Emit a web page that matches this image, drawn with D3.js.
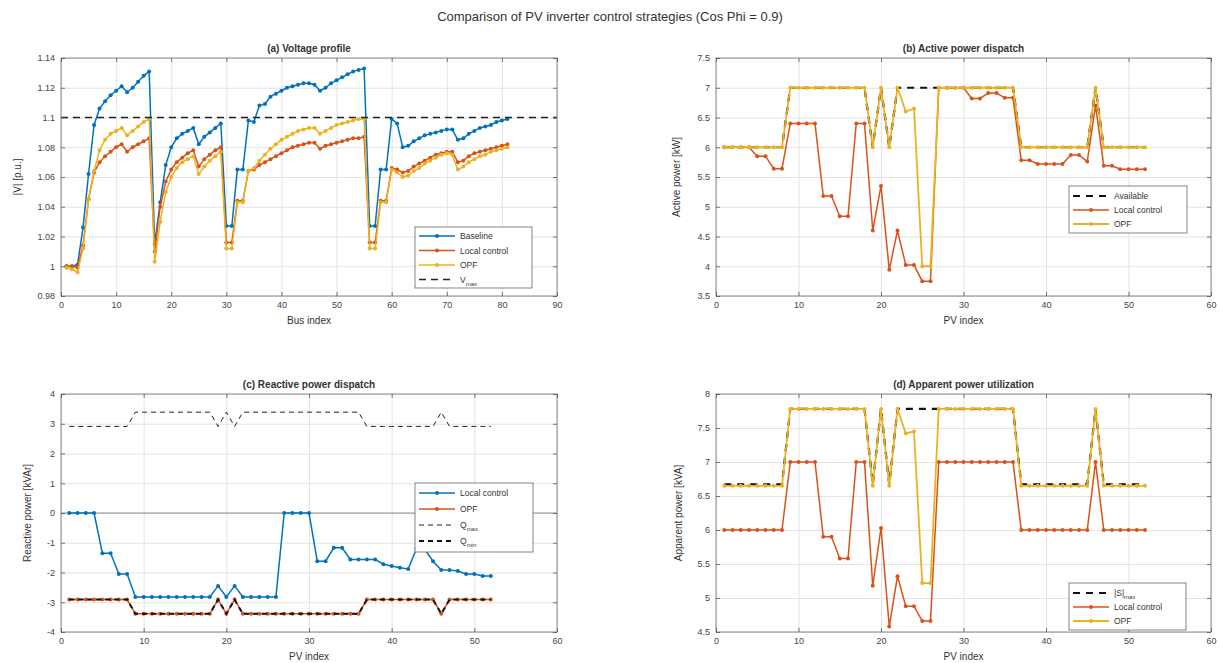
<!DOCTYPE html>
<html>
<head>
<meta charset="utf-8">
<script src="https://cdn.jsdelivr.net/npm/d3@7"></script>
<style>
body { margin:0; background:#fff; }
svg text { font-family:"Liberation Sans", Arial, Helvetica, sans-serif; fill:#333; }
.grid line { stroke:#e3e3e3; stroke-width:1; }
.grid path { display:none; }
.ax path { display:none; }
.ax line { stroke:#555; stroke-width:0.8; }
.ax text { font-size:9px; fill:#444; }
</style>
</head>
<body>
<svg id="fig" width="1220" height="663"></svg>
<script>
// ---- data ----
var busIndex = d3.range(1, 82);
var pvIndex = d3.range(1, 53);

var vBaseline = [1.000,1.000,1.001,1.026,1.062,1.095,1.106,1.111,1.115,1.118,1.121,1.117,1.120,1.124,1.128,1.131,
  1.015,1.043,1.068,1.080,1.086,1.089,1.091,1.093,1.082,1.087,1.090,1.093,1.096,
  1.027,1.027,1.065,1.065,1.098,1.097,
  1.108,1.109,1.114,1.116,1.118,1.120,1.121,1.122,1.123,1.123,1.122,1.118,1.120,1.123,1.125,1.127,1.129,1.131,1.132,1.133,
  1.027,1.027,1.065,1.065,1.099,1.096,
  1.080,1.081,1.084,1.086,1.088,1.089,1.090,1.091,1.092,1.092,1.085,1.086,1.089,1.091,1.093,1.094,1.095,1.097,1.098,1.099];
var vLocal = [1.000,1.000,0.999,1.014,1.045,1.063,1.070,1.074,1.077,1.080,1.082,1.077,1.080,1.082,1.084,1.086,
  1.010,1.040,1.057,1.065,1.070,1.073,1.076,1.078,1.067,1.072,1.075,1.078,1.080,
  1.016,1.016,1.044,1.044,1.064,1.065,
  1.068,1.070,1.072,1.074,1.076,1.078,1.080,1.081,1.082,1.083,1.083,1.079,1.081,1.082,1.083,1.084,1.085,1.086,1.086,1.087,
  1.016,1.016,1.044,1.044,1.066,1.065,
  1.063,1.064,1.067,1.069,1.071,1.073,1.075,1.076,1.077,1.077,1.070,1.071,1.074,1.076,1.077,1.078,1.079,1.080,1.081,1.082];
var vOPF = [0.999,0.998,0.996,1.012,1.045,1.064,1.078,1.085,1.089,1.091,1.093,1.088,1.091,1.094,1.097,1.099,
  1.003,1.030,1.050,1.060,1.066,1.070,1.072,1.074,1.062,1.067,1.071,1.074,1.077,
  1.012,1.012,1.043,1.043,1.064,1.066,
  1.071,1.075,1.079,1.082,1.085,1.087,1.089,1.091,1.092,1.093,1.093,1.089,1.091,1.093,1.095,1.096,1.097,1.098,1.099,1.099,
  1.012,1.012,1.043,1.043,1.065,1.063,
  1.060,1.061,1.064,1.066,1.069,1.071,1.073,1.075,1.076,1.075,1.065,1.067,1.070,1.072,1.074,1.075,1.077,1.078,1.079,1.080];
var vMax = 1.1;

var pAvail = [6,6,6,6,6,6,6,6, 7,7,7,7,7,7,7,7,7,7, 6,7,6, 7,7,7,7,7,7,7,7,7,7,7,7,7,7,7, 6,6,6,6,6,6,6,6,6, 7, 6,6,6,6,6,6];
var pLocal = [6.0,6.0,6.0,6.0, 5.85,5.85,5.64,5.64, 6.4,6.4,6.4,6.4, 5.18,5.18,4.84,4.84, 6.4,6.4,
  4.6,5.35,3.94,4.6, 4.02,4.02,3.75,3.75, 7.0,7.0,7.0,7.0, 6.82,6.82,6.91,6.91,6.83,6.83,
  5.78,5.78,5.72,5.72,5.72,5.72,5.87,5.87,5.76, 6.7, 5.69,5.69,5.63,5.63,5.63,5.63];
var pOPF = [6,6,6,6,6,6,6,6, 7,7,7,7,7,7,7,7,7,7, 6,7,6, 7,6.6,6.65,4.0,4.0, 7,7,7,7,7,7,7,7,7,7, 6,6,6,6,6,6,6,6,6, 7, 6,6,6,6,6,6];

var qMax = [2.91,2.91,2.91,2.91,2.91,2.91,2.91,2.91, 3.39,3.39,3.39,3.39,3.39,3.39,3.39,3.39,3.39,3.39, 2.91,3.39,2.91,
  3.39,3.39,3.39,3.39,3.39,3.39,3.39,3.39,3.39,3.39,3.39,3.39,3.39,3.39,3.39, 2.91,2.91,2.91,2.91,2.91,2.91,2.91,2.91,2.91, 3.39, 2.91,2.91,2.91,2.91,2.91,2.91];
var qMin = [-2.91,-2.91,-2.91,-2.91,-2.91,-2.91,-2.91,-2.91, -3.39,-3.39,-3.39,-3.39,-3.39,-3.39,-3.39,-3.39,-3.39,-3.39, -2.91,-3.39,-2.91,
  -3.39,-3.39,-3.39,-3.39,-3.39,-3.39,-3.39,-3.39,-3.39,-3.39,-3.39,-3.39,-3.39,-3.39,-3.39, -2.91,-2.91,-2.91,-2.91,-2.91,-2.91,-2.91,-2.91,-2.91, -3.39, -2.91,-2.91,-2.91,-2.91,-2.91,-2.91];
var qOPF = qMin.slice();
var qLocal = [0,0,0,0, -1.35,-1.35,-2.05,-2.05, -2.82,-2.82,-2.82,-2.82,-2.82,-2.82,-2.82,-2.82,-2.82,-2.82,
  -2.45,-2.82,-2.45,-2.82, -2.82,-2.82,-2.82,-2.82, 0,0,0,0, -1.62,-1.62,-1.17,-1.17, -1.56,-1.56,-1.56,-1.56,
  -1.72,-1.78,-1.84,-1.88, -1.2,-1.22,-1.62, -1.92,-1.92,-1.95, -2.05,-2.05,-2.12,-2.12];

var sMax = [6.67,6.67,6.67,6.67,6.67,6.67,6.67,6.67, 7.78,7.78,7.78,7.78,7.78,7.78,7.78,7.78,7.78,7.78, 6.67,7.78,6.67,
  7.78,7.78,7.78,7.78,7.78,7.78,7.78,7.78,7.78,7.78,7.78,7.78,7.78,7.78,7.78, 6.67,6.67,6.67,6.67,6.67,6.67,6.67,6.67,6.67, 7.78, 6.67,6.67,6.67,6.67,6.67,6.67];
var sOPF = [6.65,6.65,6.65,6.65,6.65,6.65,6.65,6.65, 7.78,7.78,7.78,7.78,7.78,7.78,7.78,7.78,7.78,7.78, 6.65,7.78,6.65,
  7.78,7.42,7.45,5.22,5.22, 7.78,7.78,7.78,7.78,7.78,7.78,7.78,7.78,7.78,7.78, 6.65,6.65,6.65,6.65,6.65,6.65,6.65,6.65,6.65, 7.78, 6.65,6.65,6.65,6.65,6.65,6.65];
var sLocal = [6,6,6,6,6,6,6,6, 7,7,7,7, 5.9,5.9,5.58,5.58, 7,7, 5.18,6.03,4.58,5.32, 4.88,4.88,4.66,4.66,
  7,7,7,7,7,7,7,7,7,7, 6,6,6,6,6,6,6,6,6, 7, 6,6,6,6,6,6];

var xTicksBus = [0,10,20,30,40,50,60,70,80,90];
var xTicksPV = [0,10,20,30,40,50,60];
var yTicksA = [0.98,1,1.02,1.04,1.06,1.08,1.1,1.12,1.14];
var yTicksB = [3.5,4,4.5,5,5.5,6,6.5,7,7.5];
var yTicksC = [-4,-3,-2,-1,0,1,2,3,4];
var yTicksD = [4.5,5,5.5,6,6.5,7,7.5,8];

var blue = "#0072BD", orange = "#D95319", yellow = "#EDB120";

var svg = d3.select("#fig");

svg.append("text")
  .attr("x", 610).attr("y", 21)
  .attr("text-anchor", "middle")
  .style("font-size", "13px")
  .text("Comparison of PV inverter control strategies (Cos Phi = 0.9)");

function labelWithSub(sel, main, sub) {
  sel.append("tspan").text(main);
  if (sub) {
    sel.append("tspan").attr("dy", 3).style("font-size", "6px").text(sub);
  }
}

function panel(o) {
  var x = d3.scaleLinear().domain(o.xdom).range([o.x0, o.x1]);
  var y = d3.scaleLinear().domain(o.ydom).range([o.y1, o.y0]);
  var h = o.y1 - o.y0, w = o.x1 - o.x0;
  var g = svg.append("g");

  // grid
  g.append("g").attr("class", "grid")
    .attr("transform", "translate(0," + o.y1 + ")")
    .call(d3.axisBottom(x).tickValues(o.xticks).tickSize(-h).tickFormat(""));
  g.append("g").attr("class", "grid")
    .attr("transform", "translate(" + o.x0 + ",0)")
    .call(d3.axisLeft(y).tickValues(o.yticks).tickSize(-w).tickFormat(""));

  // data
  var plot = g.append("g");
  o.series.forEach(function(s) {
    var xs = s.x;
    var line = d3.line()
      .x(function(d, i) { return x(xs[i]); })
      .y(function(d) { return y(d); });
    plot.append("path")
      .datum(s.v)
      .attr("d", line)
      .attr("fill", "none")
      .attr("stroke", s.color)
      .attr("stroke-width", s.width)
      .attr("stroke-dasharray", s.dash || null);
    if (s.marker) {
      plot.selectAll(null)
        .data(s.v)
        .enter().append("circle")
        .attr("cx", function(d, i) { return x(xs[i]); })
        .attr("cy", function(d) { return y(d); })
        .attr("r", 2)
        .attr("fill", s.color);
    }
  });

  // box + axes
  g.append("rect")
    .attr("x", o.x0).attr("y", o.y0).attr("width", w).attr("height", h)
    .attr("fill", "none").attr("stroke", "#8a8a8a").attr("stroke-width", 1);
  g.append("g").attr("class", "ax")
    .attr("transform", "translate(0," + o.y1 + ")")
    .call(d3.axisBottom(x).tickValues(o.xticks).tickSize(-4).tickPadding(6).tickFormat(d3.format("d")));
  g.append("g").attr("class", "ax")
    .attr("transform", "translate(0," + o.y0 + ")")
    .call(d3.axisTop(x).tickValues(o.xticks).tickSize(-4).tickFormat(""));
  g.append("g").attr("class", "ax")
    .attr("transform", "translate(" + o.x0 + ",0)")
    .call(d3.axisLeft(y).tickValues(o.yticks).tickSize(-4).tickPadding(6).tickFormat(function(d) { return String(d); }));
  g.append("g").attr("class", "ax")
    .attr("transform", "translate(" + o.x1 + ",0)")
    .call(d3.axisRight(y).tickValues(o.yticks).tickSize(-4).tickFormat(""));

  // labels
  g.append("text")
    .attr("x", (o.x0 + o.x1) / 2).attr("y", o.y0 - 6)
    .attr("text-anchor", "middle")
    .style("font-size", "10px").style("font-weight", "bold")
    .text(o.title);
  g.append("text")
    .attr("x", (o.x0 + o.x1) / 2).attr("y", o.y1 + 28)
    .attr("text-anchor", "middle")
    .style("font-size", "10px")
    .text(o.xlabel);
  g.append("text")
    .attr("transform", "translate(" + (o.x0 - o.ylabOff) + "," + ((o.y0 + o.y1) / 2) + ") rotate(-90)")
    .attr("text-anchor", "middle")
    .style("font-size", "10px")
    .text(o.ylabel);

  // legend
  var L = o.legend;
  var lg = g.append("g").attr("transform", "translate(" + L.x + "," + L.y + ")");
  lg.append("rect")
    .attr("width", L.w).attr("height", L.h)
    .attr("fill", "#fff").attr("stroke", "#666").attr("stroke-width", 0.8);
  L.items.forEach(function(it, i) {
    var yy = L.top + i * L.step;
    lg.append("line")
      .attr("x1", 4).attr("x2", 40).attr("y1", yy).attr("y2", yy)
      .attr("stroke", it.color).attr("stroke-width", it.width)
      .attr("stroke-dasharray", it.dash || null);
    if (it.marker) {
      lg.append("circle").attr("cx", 22).attr("cy", yy).attr("r", 2).attr("fill", it.color);
    }
    var t = lg.append("text")
      .attr("x", 45).attr("y", yy + 3)
      .style("font-size", "8.5px");
    labelWithSub(t, it.label, it.sub);
  });
  return { x: x, y: y, g: g };
}

// (a) voltage profile
panel({
  x0: 61, x1: 557, y0: 58, y1: 296,
  xdom: [0, 90], ydom: [0.98, 1.14],
  xticks: xTicksBus, yticks: yTicksA,
  title: "(a) Voltage profile", xlabel: "Bus index", ylabel: "|V| [p.u.]", ylabOff: 40,
  series: [
    { x: busIndex, v: vBaseline, color: blue, width: 1.5, marker: true },
    { x: busIndex, v: vLocal, color: orange, width: 1.5, marker: true },
    { x: busIndex, v: vOPF, color: yellow, width: 1.5, marker: true },
    { x: [0, 90], v: [vMax, vMax], color: "#222", width: 1.5, dash: "7,5" }
  ],
  legend: { x: 415, y: 227, w: 117, h: 61, top: 9, step: 14.5, items: [
    { label: "Baseline", color: blue, width: 1.5, marker: true },
    { label: "Local control", color: orange, width: 1.5, marker: true },
    { label: "OPF", color: yellow, width: 1.5, marker: true },
    { label: "V", sub: "max", color: "#222", width: 1.5, dash: "7,5" }
  ]}
});

// (b) active power
panel({
  x0: 716, x1: 1211, y0: 58, y1: 296,
  xdom: [0, 60], ydom: [3.5, 7.5],
  xticks: xTicksPV, yticks: yTicksB,
  title: "(b) Active power dispatch", xlabel: "PV index", ylabel: "Active power [kW]", ylabOff: 36,
  series: [
    { x: pvIndex, v: pAvail, color: "#111", width: 2.2, dash: "7,6" },
    { x: pvIndex, v: pLocal, color: orange, width: 1.5, marker: true },
    { x: pvIndex, v: pOPF, color: yellow, width: 1.8, marker: true }
  ],
  legend: { x: 1069, y: 186, w: 118, h: 47, top: 10, step: 14, items: [
    { label: "Available", color: "#111", width: 2.2, dash: "7,6" },
    { label: "Local control", color: orange, width: 1.5, marker: true },
    { label: "OPF", color: yellow, width: 1.8, marker: true }
  ]}
});

// (c) reactive power
var pc = panel({
  x0: 61, x1: 557, y0: 394, y1: 632,
  xdom: [0, 60], ydom: [-4, 4],
  xticks: xTicksPV, yticks: yTicksC,
  title: "(c) Reactive power dispatch", xlabel: "PV index", ylabel: "Reactive power [kVAr]", ylabOff: 30,
  series: [
    { x: [0, 60], v: [0, 0], color: "#777", width: 0.8 },
    { x: pvIndex, v: qLocal, color: blue, width: 1.5, marker: true },
    { x: pvIndex, v: qOPF, color: orange, width: 1.5, marker: true },
    { x: pvIndex, v: qMax, color: "#222", width: 1, dash: "5,4" },
    { x: pvIndex, v: qMin, color: "#111", width: 2, dash: "5,4" }
  ],
  legend: { x: 415, y: 483, w: 118, h: 69, top: 10, step: 16, items: [
    { label: "Local control", color: blue, width: 1.5, marker: true },
    { label: "OPF", color: orange, width: 1.5, marker: true },
    { label: "Q", sub: "max", color: "#222", width: 1, dash: "5,4" },
    { label: "Q", sub: "min", color: "#111", width: 2, dash: "5,4" }
  ]}
});

// (d) apparent power
panel({
  x0: 716, x1: 1211, y0: 394, y1: 632,
  xdom: [0, 60], ydom: [4.5, 8],
  xticks: xTicksPV, yticks: yTicksD,
  title: "(d) Apparent power utilization", xlabel: "PV index", ylabel: "Apparent power [kVA]", ylabOff: 34,
  series: [
    { x: pvIndex, v: sMax, color: "#111", width: 2.2, dash: "7,6" },
    { x: pvIndex, v: sLocal, color: orange, width: 1.5, marker: true },
    { x: pvIndex, v: sOPF, color: yellow, width: 1.8, marker: true }
  ],
  legend: { x: 1069, y: 583, w: 117, h: 47, top: 10, step: 14, items: [
    { label: "|S|", sub: "max", color: "#111", width: 2.2, dash: "7,6" },
    { label: "Local control", color: orange, width: 1.5, marker: true },
    { label: "OPF", color: yellow, width: 1.8, marker: true }
  ]}
});
</script>
</body>
</html>
